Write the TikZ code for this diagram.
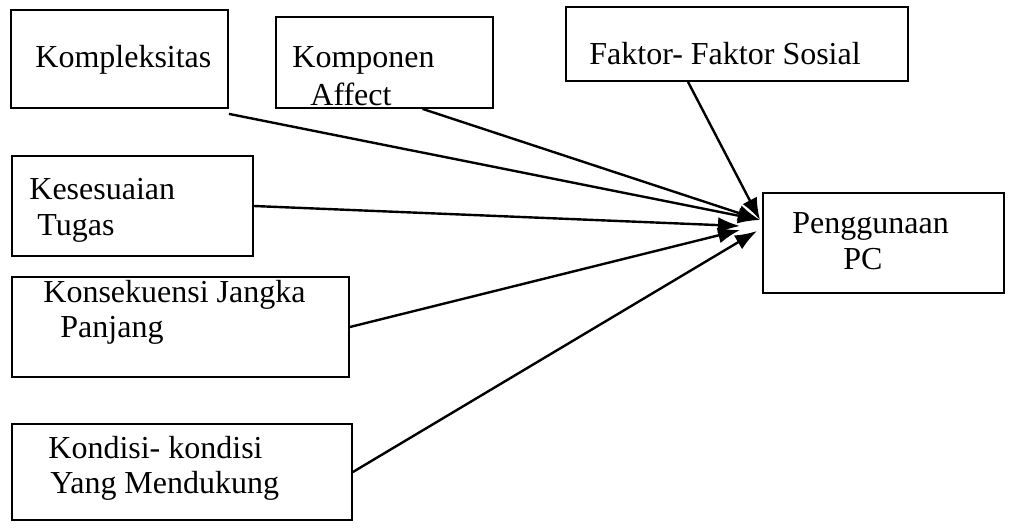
\documentclass[tikz,border=0pt]{standalone}
\usepackage{fontspec}
\setmainfont{Liberation Serif}
\usetikzlibrary{arrows.meta,calc}
\begin{document}
\begin{tikzpicture}[x=0.5pt,y=-0.5pt,
    box/.style={draw,line width=0.9pt,inner sep=0pt},
    lbl/.style={anchor=base west,inner sep=0pt,font=\fontsize{16}{18}\selectfont},
    link/.style={line width=1.2pt,-{Latex[length=11pt,width=8pt]}}]
    \useasboundingbox (0,0) rectangle (1010,529);

    % Boxes
    \node[box,minimum width=108.5pt,minimum height=49pt] (kompleks) at (119.5,59) {};
    \node[box,minimum width=108.5pt,minimum height=45.5pt] (affect) at (384.5,62.5) {};
    \node[box,minimum width=171pt,minimum height=37pt] (faktor) at (737,44) {};
    \node[box,minimum width=120.5pt,minimum height=50pt] (sesuai) at (132.5,206) {};
    \node[box,minimum width=168.5pt,minimum height=50pt] (konsek) at (180.5,327) {};
    \node[box,minimum width=170pt,minimum height=48pt] (kondisi) at (182,472) {};
    \node[box,minimum width=120.5pt,minimum height=50pt] (pc) at (883.5,243) {};

    % Labels
    \node[lbl] (kompleksT) at (35,68) {Kompleksitas};
    \node[lbl] (affectT1) at (292,68) {Komponen};
    \node[lbl] (affectT2) at (310,106) {Affect};
    \node[lbl] (faktorT) at (589,65) {Faktor- Faktor Sosial};
    \node[lbl] (sesuaiT1) at (29,199) {Kesesuaian};
    \node[lbl] (sesuaiT2) at (37,235) {Tugas};
    \node[lbl] (konsekT1) at (43,302) {Konsekuensi Jangka};
    \node[lbl] (konsekT2) at (60,337) {Panjang};
    \node[lbl] (kondisiT1) at (48,458) {Kondisi- kondisi};
    \node[lbl] (kondisiT2) at (50,493) {Yang Mendukung};
    \node[lbl] (pcT1) at (792,233) {Penggunaan};
    \node[lbl] (pcT2) at (843,269) {PC};

    % Arrow ends
    \coordinate (hubA) at (760,220);
    \coordinate (hubB) at (740,226);
    \coordinate (hubC) at (740,230);
    \coordinate (hubD) at (757,231);

    % Arrows
    \draw[link] ($(kompleks.south east)+(0,5)$) -- (hubA);
    \draw[link] ($(affect.south)+(38,0)$) -- (hubA);
    \draw[link] ($(faktor.south)+(-49,0)$) -- (hubA);
    \draw[link] (sesuai.east) -- (hubB);
    \draw[link] (konsek.east) -- (hubC);
    \draw[link] (kondisi.east) -- (hubD);
\end{tikzpicture}
\end{document}
